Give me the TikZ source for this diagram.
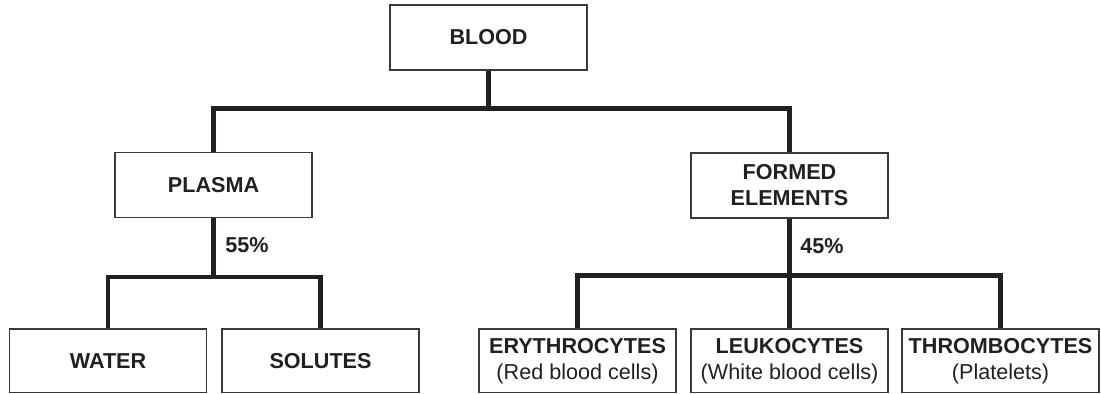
\documentclass[tikz,border=0pt]{standalone}
\usepackage{fontspec}
\setmainfont{Liberation Sans}
\usetikzlibrary{positioning}
\definecolor{bldink}{HTML}{231F20}
\definecolor{bldedge}{HTML}{3A3A3A}
\newcommand{\sublab}[1]{\\\mdseries #1}

\begin{document}
\begin{tikzpicture}[x=0.5pt, y=-0.5pt,
  box/.style={draw=bldedge, line width=0.6pt, minimum width=98.5pt,
    minimum height=32.5pt, align=center, inner sep=1pt, text=bldink},
  lowbox/.style={box, minimum height=31.75pt},
  link/.style={draw=bldink, line width=2.3pt},
  pct/.style={anchor=base west, inner sep=0pt, text=bldink},
  every node/.style={font=\fontsize{10.8}{13}\selectfont\bfseries}]

  \useasboundingbox (0,0) rectangle (1101,393);

  \node[box] (blood) at (488.5,37.5) {BLOOD};
  \node[box] (plasma) at (213.5,185) {PLASMA};
  \node[box] (formed) at (789.5,185.5) {FORMED\\ELEMENTS};

  \node[lowbox] (water) at (108,360.75) {WATER};
  \node[lowbox] (solutes) at (320.5,360.75) {SOLUTES};
  \node[lowbox] (eryth) at (577.5,360.75) {ERYTHROCYTES\sublab{(Red blood cells)}};
  \node[lowbox] (leuk) at (789.5,360.75) {LEUKOCYTES\sublab{(White blood cells)}};
  \node[lowbox] (thromb) at (1000.5,360.75) {THROMBOCYTES\sublab{(Platelets)}};

  % branch points
  \coordinate (bsplit) at ([yshift=-19pt]blood.south);
  \coordinate (psplit) at ([yshift=-29.5pt]plasma.south);
  \coordinate (fsplit) at ([yshift=-28.5pt]formed.south);

  \draw[link] (blood.south) -- (bsplit);
  \draw[link] (plasma.north) |- (bsplit) -| (formed.north);

  \draw[link] (plasma.south) -- (psplit);
  \draw[link] (water.north) |- (psplit) -| (solutes.north);

  \draw[link] (formed.south) -- (leuk.north);
  \draw[link] (eryth.north) |- (fsplit) -| (thromb.north);

  \node[pct] (pshare) at (225,252) {55\%};
  \node[pct] (fshare) at (800,253) {45\%};

\end{tikzpicture}
\end{document}
